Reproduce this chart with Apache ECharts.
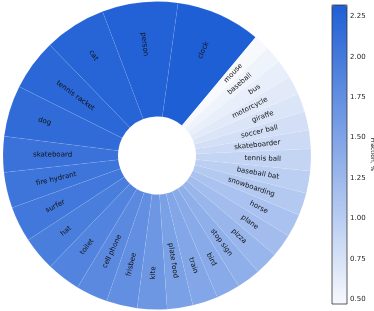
<!DOCTYPE html>
<html>
<head>
<meta charset="utf-8">
<script src="https://cdn.jsdelivr.net/npm/echarts@6/dist/echarts.min.js"></script>
<style>html,body{margin:0;padding:0;background:#fff}#c{width:374px;height:311px}</style>
</head>
<body>
<div id="c"></div>
<script>
var categories = ['clock','person','cat','tennis racket','dog','skateboard','fire hydrant','surfer','hat','toilet','cell phone','frisbee','kite','plate food','train','bird','stop sign','pizza','plane','horse','snowboarding','baseball bat','tennis ball','skateboarder','soccer ball','giraffe','motorcycle','bus','baseball','mouse'];
var sizes = [32.0,28.6,23.4,19.4,19.4,13.5,13.5,13.5,12.9,12.8,12.0,11.7,11.2,9.7,9.6,9.0,9.0,8.8,8.8,8.7,8.5,8.4,8.3,7.1,7.1,7.0,7.0,7.0,6.6,6.0];
var fractions = [2.32,2.29,2.25,2.22,2.17,2.09,2.06,2.02,1.95,1.88,1.81,1.74,1.65,1.54,1.47,1.42,1.36,1.28,1.20,1.13,1.05,0.98,0.91,0.84,0.78,0.71,0.65,0.60,0.54,0.47];
var colorbarTicks = [0.5,0.75,1.0,1.25,1.5,1.75,2.0,2.25];

var startAngle = 50.2;
var fMin = Math.min.apply(null, fractions), fMax = Math.max.apply(null, fractions);

var source = categories.map(function(c,i){ return [c, sizes[i], fractions[i]]; });
var total = sizes.reduce(function(a,b){return a+b;},0);
var sides = [];
var cum = 0;
for (var i=0;i<sizes.length;i++){
  var mid = (startAngle + (cum + sizes[i]/2)/total*360) * Math.PI/180;
  sides.push(Math.cos(mid) < 0 ? 'l' : 'r');
  cum += sizes[i];
}

var chart = echarts.init(document.getElementById('c'), null, {renderer:'canvas'});
chart.setOption({
  animation: false,
  backgroundColor: '#fff',
  dataset: { source: source, dimensions: ['name','size','fraction'] },
  visualMap: {
    type: 'continuous',
    min: fMin, max: fMax,
    dimension: 2,
    seriesIndex: 0,
    left: 332, top: 5, padding: 0,
    itemWidth: 15, itemHeight: 299,
    calculable: false, hoverLink: false,
    inRange: { color: ['#f7f9fd', '#1f5fd5'] },
    z: 1
  },
  grid: { left: 332, top: 5, width: 15, height: 299, show: true, borderColor: '#333', borderWidth: 0.8,
    backgroundColor: 'transparent', z: 10, containLabel: false, outerBoundsMode: 'none' },
  xAxis: { type: 'value', show: false, min: 0, max: 1 },
  yAxis: {
    type: 'value', min: fMin, max: fMax, position: 'right',
    axisLine: { show: false },
    splitLine: { show: false },
    axisTick: { show: true, length: 3, customValues: colorbarTicks, lineStyle: { color: '#333', width: 0.8 } },
    axisLabel: { customValues: colorbarTicks, fontSize: 7, fontFamily: 'DejaVu Sans', color: '#222', margin: 3,
      formatter: function(v){ return v.toFixed(2); } },
    name: 'Fraction, %', nameLocation: 'middle', nameRotate: -90, nameGap: 22,
    nameTextStyle: { fontSize: 6, fontFamily: 'DejaVu Sans', color: '#222' }
  },
  series: [{
    type: 'pie',
    center: [157, 155.5],
    radius: [39, 154],
    startAngle: startAngle,
    clockwise: false,
    avoidLabelOverlap: false,
    encode: { itemName: 'name', value: 'size' },
    itemStyle: { borderColor: 'rgba(255,255,255,0.15)', borderWidth: 0.4 },
    emphasis: { disabled: true },
    labelLine: { show: false },
    label: {
      show: true, position: 'inside', rotate: 'radial',
      fontFamily: 'DejaVu Sans', fontSize: 7, color: '#111',
      formatter: function(p){ return '{' + sides[p.dataIndex] + '|' + p.name + '}'; },
      rich: {
        r: { width: 49, align: 'right', fontFamily: 'DejaVu Sans', fontSize: 7, color: '#111' },
        l: { width: 49, align: 'left', fontFamily: 'DejaVu Sans', fontSize: 7, color: '#111' }
      }
    }
  }]
});
</script>
</body>
</html>
